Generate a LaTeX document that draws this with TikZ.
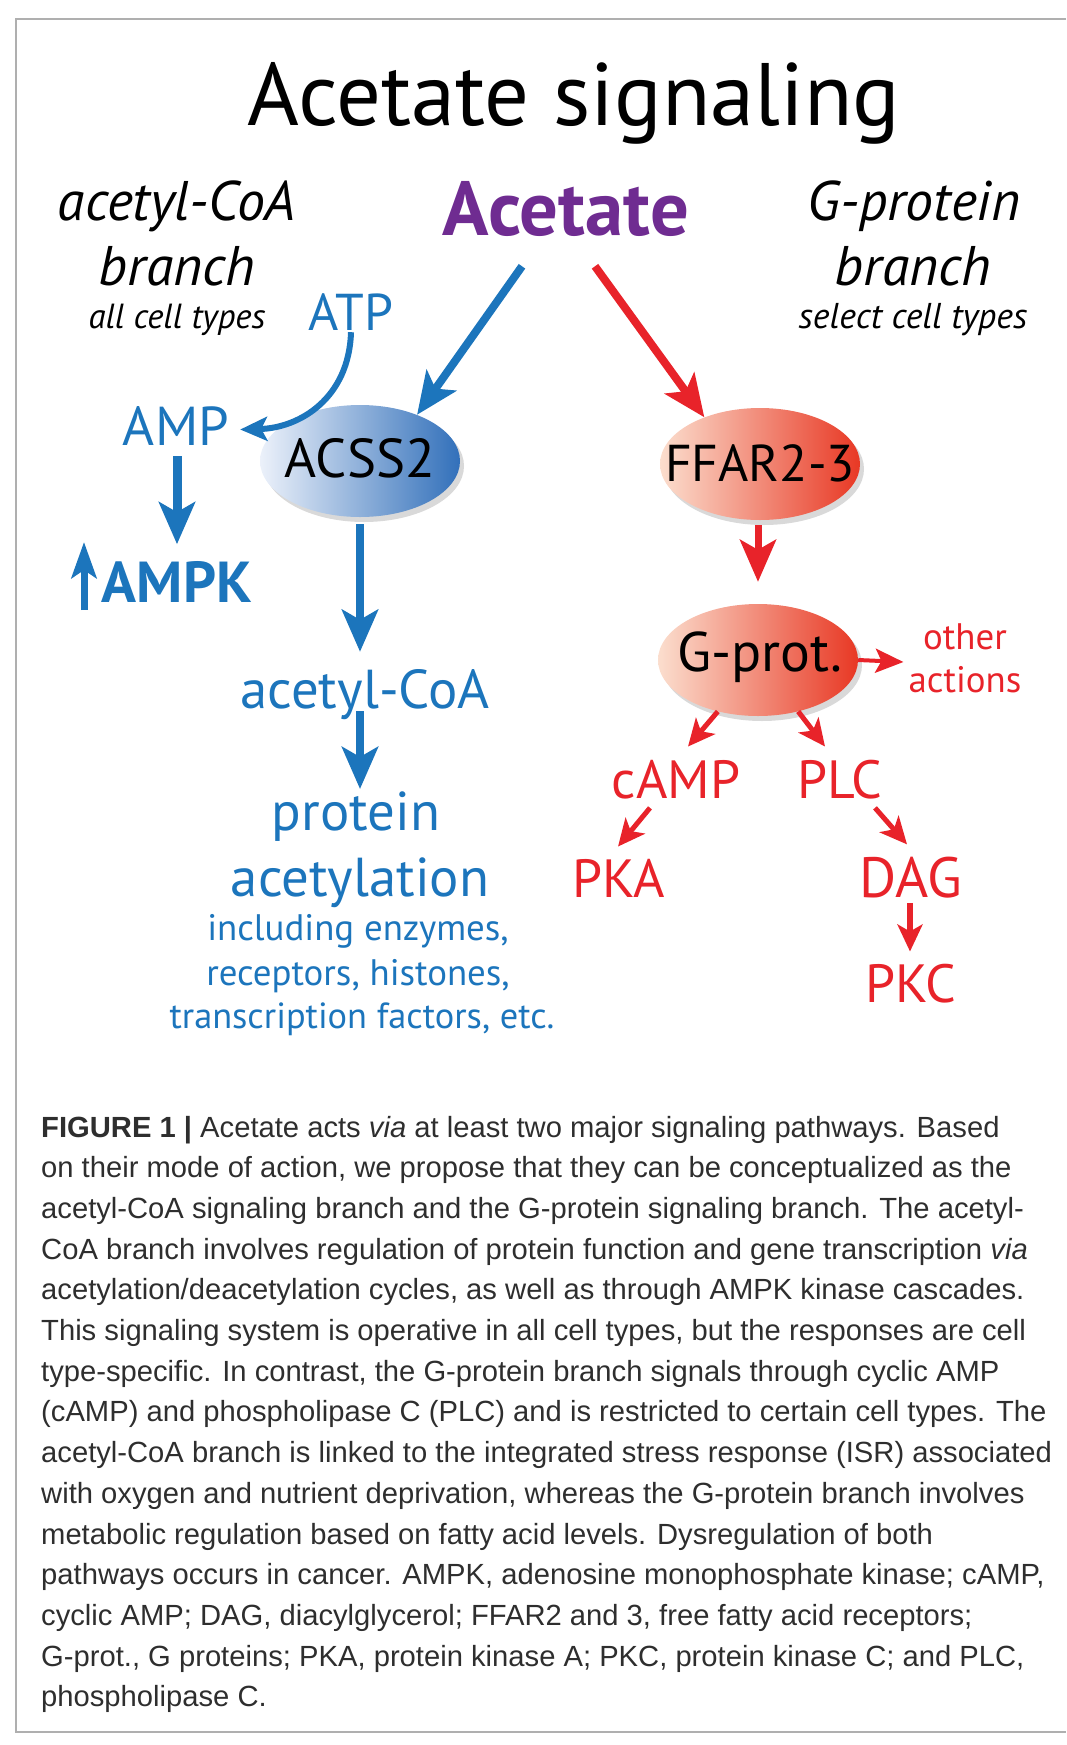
\documentclass[tikz,border=0pt]{standalone}
\usepackage{fontspec}
\setmainfont{PT Sans}
\newfontfamily\capfont{Liberation Sans}
\usepackage{tikz}
\usetikzlibrary{arrows.meta,calc,shapes.geometric,shadows}
\definecolor{acblue}{RGB}{28,117,188}
\definecolor{acred}{RGB}{232,35,42}
\definecolor{acpurple}{RGB}{111,44,145}
\definecolor{framegray}{RGB}{175,175,175}
\definecolor{blobbluel}{RGB}{236,241,250}
\definecolor{blobbluer}{RGB}{50,112,186}
\definecolor{blobredl}{RGB}{251,222,206}
\definecolor{blobredr}{RGB}{232,56,36}

\begin{document}
\begin{tikzpicture}[x=1bp,y=-1bp,
    every node/.style={inner sep=2bp,anchor=base},
    bluetxt/.style={text=acblue,font=\fontsize{55}{60}\selectfont},
    redtxt/.style={text=acred,font=\fontsize{54}{60}\selectfont},
    headtxt/.style={font=\fontsize{56}{64}\selectfont\itshape},
    blob/.style={ellipse,anchor=center,minimum width=200bp,minimum height=112bp,inner sep=0pt,
        drop shadow={shadow xshift=4bp,shadow yshift=-5bp,opacity=.3}},
    blobtxt/.style={anchor=center,font=\fontsize{55}{60}\selectfont},
    bigarr/.style={line width=8bp,-{Stealth[length=42bp,width=36bp,inset=10bp]}},
    smallarr/.style={line width=5bp,-{Stealth[length=27bp,width=25bp,inset=7bp]}},
    captxt/.style={anchor=base west,inner sep=0pt,text=black!82,font=\capfont\fontsize{29.3}{36}\selectfont}]
    \useasboundingbox (0,0) rectangle (1066,1745);
    \draw[framegray,line width=1.5bp] (1066,19) -- (16,19) -- (16,1732) -- (1066,1732);

    % headings
    \node[font=\fontsize{89}{96}\selectfont] (title) at (574,125) {Acetate signaling};
    \node[text=acpurple,font=\fontsize{77}{84}\selectfont\bfseries] (acetate) at (566,235) {Acetate};
    \node[headtxt] (lefthd1) at (177,220) {acetyl-CoA};
    \node[headtxt] (lefthd2) at (177,285) {branch};
    \node[font=\fontsize{35}{40}\selectfont\itshape] (lefthd3) at (177,328) {all cell types};
    \node[headtxt] (righthd1) at (914,220) {G-protein};
    \node[headtxt] (righthd2) at (913,285) {branch};
    \node[font=\fontsize{36}{40}\selectfont\itshape] (righthd3) at (913,328) {select cell types};

    % acetyl-CoA branch
    \node[blob,left color=blobbluel,right color=blobbluer] (acss) at (360,461) {};
    \node[blobtxt] (acsstxt) at (360,458) {ACSS2};
    \node[bluetxt,font=\fontsize{52}{56}\selectfont] (atp) at (351,330) {ATP};
    \node[bluetxt,font=\fontsize{55}{60}\selectfont] (amp) at (176,445) {AMP};
    \node[bluetxt,font=\fontsize{58}{64}\selectfont\bfseries] (ampk) at (177,602) {AMPK};
    \coordinate (upfoot) at (84,610);
    \coordinate (uptip) at (84,542);
    \node[bluetxt] (acoa) at (365,708) {acetyl-CoA};
    \node[bluetxt] (prot) at (356,830) {protein};
    \node[bluetxt] (acetyl) at (360,896) {acetylation};
    \node[bluetxt,font=\fontsize{37}{44}\selectfont] (incl1) at (358,940) {including enzymes,};
    \node[bluetxt,font=\fontsize{37}{44}\selectfont] (incl2) at (358,985) {receptors, histones,};
    \node[bluetxt,font=\fontsize{36.5}{44}\selectfont] (incl3) at (362,1028) {transcription factors, etc.};

    % G-protein branch
    \node[blob,left color=blobredl,right color=blobredr] (ffar) at (760,464) {};
    \node[blobtxt,font=\fontsize{52}{60}\selectfont] (ffartxt) at (760,463) {FFAR2-3};
    \node[blob,left color=blobredl,right color=blobredr] (gprot) at (758,660) {};
    \node[blobtxt,font=\fontsize{56}{60}\selectfont] (gprottxt) at (760,657) {G-prot.};
    \node[text=acred,font=\fontsize{37}{43}\selectfont,align=center,anchor=center] (oth) at (965,658) {other\\actions};
    \node[redtxt] (camp) at (676,798) {cAMP};
    \node[redtxt] (plc) at (840,798) {PLC};
    \node[redtxt] (pka) at (619,897) {PKA};
    \node[redtxt,font=\fontsize{57}{60}\selectfont] (dag) at (911,897) {DAG};
    \node[redtxt] (pkc) at (911,1002) {PKC};

    % connectors
    \draw[bigarr,acblue] ($(acetate.south)+(-44,28)$) -- (acss.39);
    \draw[bigarr,acred] ($(acetate.south)+(29,28)$) -- (ffar.140);
    \draw[acblue,line width=6bp,-{Stealth[length=27bp,width=24bp,inset=6bp]}]
        (atp.south) .. controls (349,398) and (300,428) .. ($(amp.east)+(9,4)$);
    \draw[bigarr,acblue,line width=9bp] ($(amp.south)+(1,9)$) -- ($(amp.south)+(1,97)$);
    \draw[acblue,line width=7bp,-{Stealth[length=36bp,width=25bp,inset=8bp]}] (upfoot) -- (uptip);
    \draw[bigarr,acblue] ($(acss.south)+(0,7)$) -- ($(acoa.north)+(-5,-15)$);
    \draw[bigarr,acblue] ($(acoa.south)+(-5,-10)$) -- ($(prot.north)+(4,0)$);
    \draw[bigarr,acred,line width=7bp] ($(ffar.south)+(-2,5)$) -- ($(gprot.north)+(0,-22)$);
    \draw[acred,line width=4bp,-{Stealth[length=28bp,width=24bp,inset=6bp]}] (gprot.east) -- ($(oth.west)+(-3,4)$);
    \draw[smallarr,acred] (gprot.232) -- ($(camp.north)+(12,-11)$);
    \draw[smallarr,acred] (gprot.308) -- ($(plc.north)+(-15,-11)$);
    \draw[smallarr,acred] ($(camp.south)+(-26,7)$) -- ($(pka.north)+(-1,-10)$);
    \draw[smallarr,acred] ($(plc.south)+(35,7)$) -- ($(dag.north)+(-4,-10)$);
    \draw[smallarr,acred,line width=6bp] ($(dag.south)+(-1,3)$) -- ($(pkc.north)+(-1,-10)$);

    % caption
    \foreach \capline [count=\k] in {
        {\textbf{FIGURE 1} \textbf{|} Acetate acts \textit{via} at least two major signaling pathways. Based},
        {on their mode of action, we propose that they can be conceptualized as the},
        {acetyl-CoA signaling branch and the G-protein signaling branch. The acetyl-},
        {CoA branch involves regulation of protein function and gene transcription \textit{via}},
        {acetylation/deacetylation cycles, as well as through AMPK kinase cascades.},
        {This signaling system is operative in all cell types, but the responses are cell},
        {type-specific. In contrast, the G-protein branch signals through cyclic AMP},
        {(cAMP) and phospholipase C (PLC) and is restricted to certain cell types. The},
        {acetyl-CoA branch is linked to the integrated stress response (ISR) associated},
        {with oxygen and nutrient deprivation, whereas the G-protein branch involves},
        {metabolic regulation based on fatty acid levels. Dysregulation of both},
        {pathways occurs in cancer. AMPK, adenosine monophosphate kinase; cAMP,},
        {cyclic AMP; DAG, diacylglycerol; FFAR2 and 3, free fatty acid receptors;},
        {G-prot., G proteins; PKA, protein kinase A; PKC, protein kinase C; and PLC,},
        {phospholipase C.}}
        \node[captxt] (cap\k) at (41,{1137+40.7*(\k-1)}) {\capline};
\end{tikzpicture}
\end{document}
